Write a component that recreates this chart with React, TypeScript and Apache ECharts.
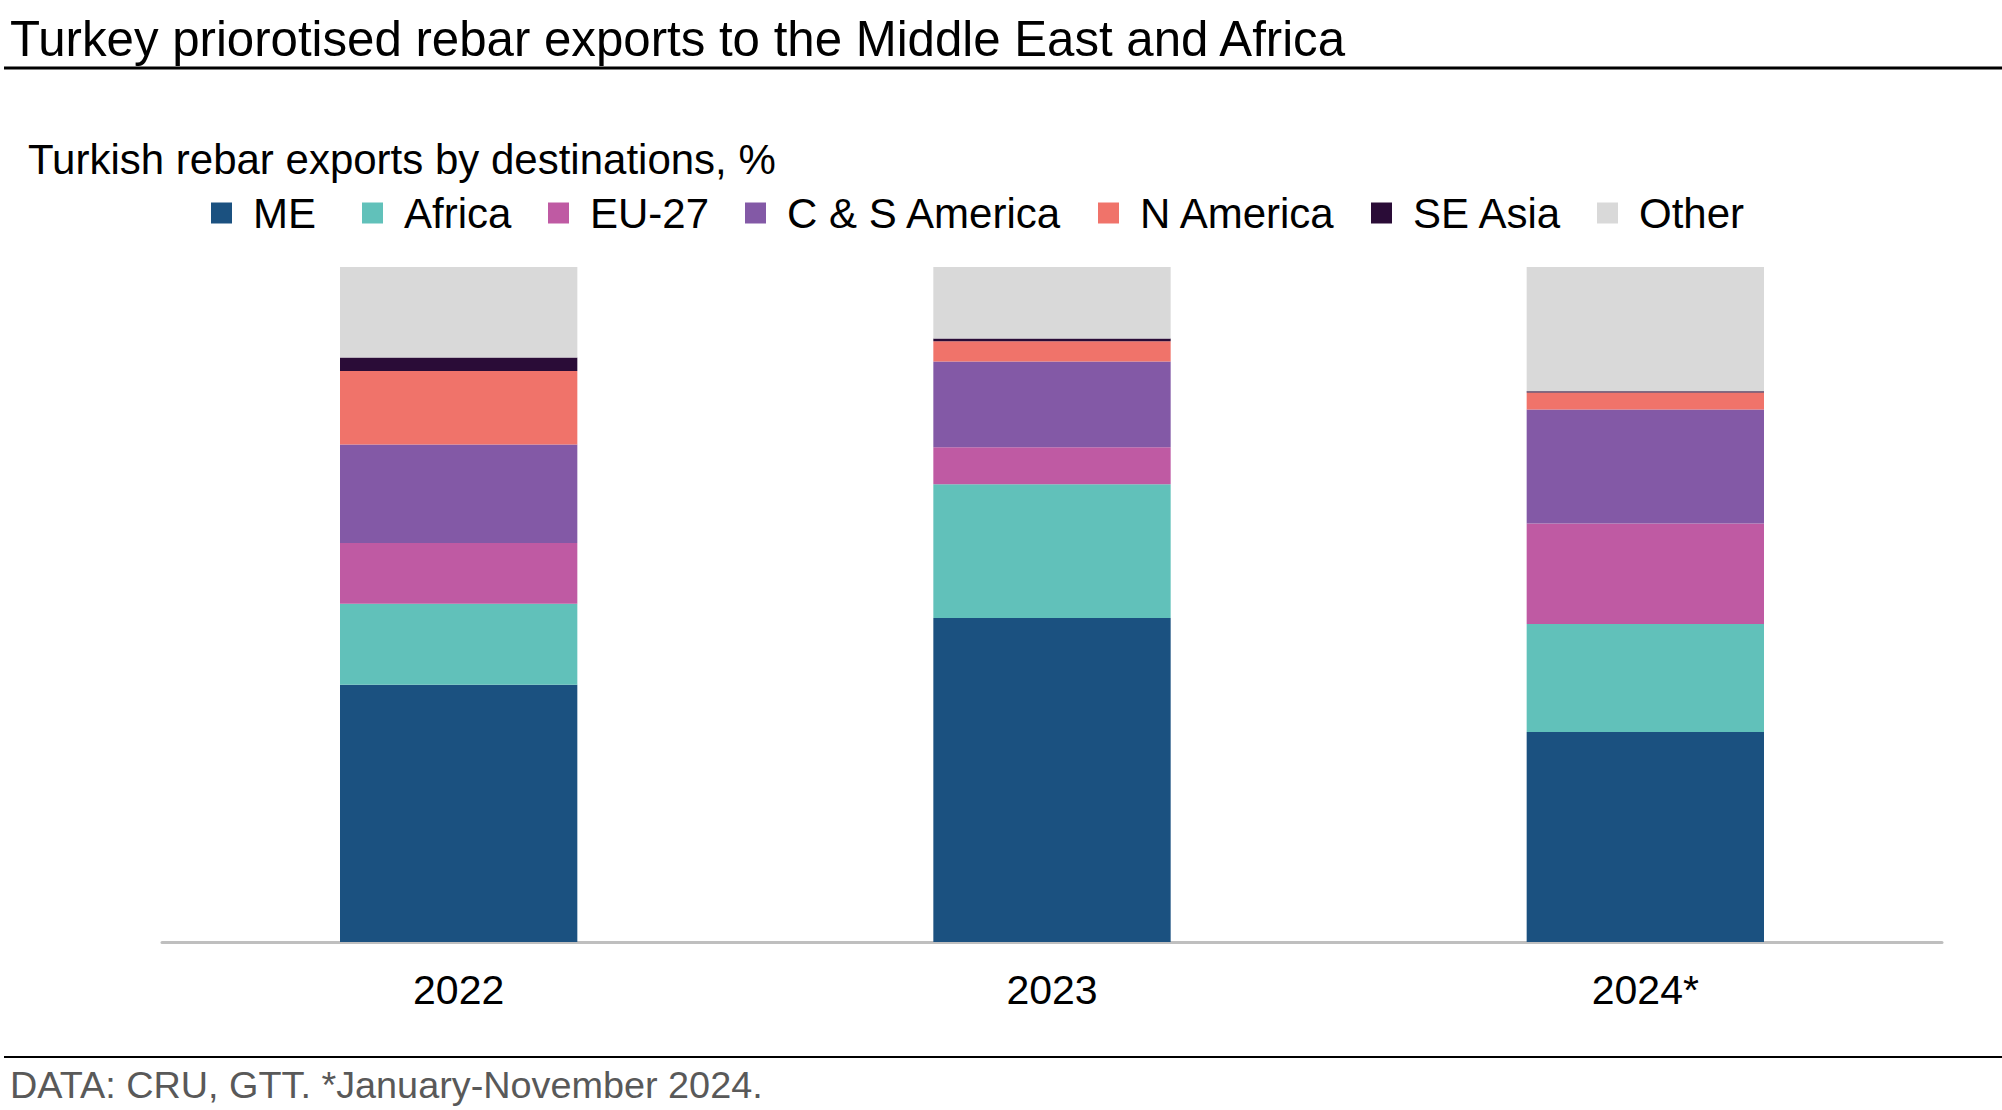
import React, { useEffect, useRef } from "react";
import * as echarts from "echarts";

const categories = ["2022", "2023", "2024*"];
const seriesNames = ["ME", "Africa", "EU-27", "C & S America", "N America", "SE Asia", "Other"];
const meValues = [38.1, 48.0, 31.1];
const africaValues = [12.0, 19.8, 16.0];
const euValues = [9.0, 5.5, 14.9];
const csAmericaValues = [14.6, 12.7, 16.9];
const nAmericaValues = [10.9, 3.0, 2.5];
const seAsiaValues = [2.0, 0.4, 0.2];
const otherValues = [13.4, 10.6, 18.4];
const colors = ["#1b5180", "#61c1ba", "#bf5aa3", "#8359a6", "#f0736a", "#2a0c37", "#d9d9d9"];

const FONT = "'Liberation Sans', Arial, sans-serif";
const LEGEND_LEFTS = [211, 362, 548, 745, 1098, 1371, 1597];

export default function App() {
  const ref = useRef<HTMLDivElement>(null);
  useEffect(() => {
    if (!ref.current) return;
    const chart = echarts.init(ref.current, undefined, { renderer: "svg" });
    const allValues = [meValues, africaValues, euValues, csAmericaValues, nAmericaValues, seAsiaValues, otherValues];
    chart.setOption({
      animation: false,
      backgroundColor: "#ffffff",
      textStyle: { fontFamily: FONT },
      title: {
        text: "Turkish rebar exports by destinations, %",
        left: 28,
        top: 138,
        padding: 0,
        textStyle: { fontSize: 42, fontWeight: "normal", color: "#000000", fontFamily: FONT },
      },
      legend: seriesNames.map((name, i) => ({
        left: LEGEND_LEFTS[i],
        top: 192,
        padding: 0,
        icon: "rect",
        itemWidth: 21,
        itemHeight: 21,
        selectedMode: false,
        data: [name],
        textStyle: { fontSize: 42, color: "#000000", fontFamily: FONT, padding: [0, 0, 0, 16] },
      })),
      grid: { left: 162, right: 60, top: 267, bottom: 168, containLabel: false },
      xAxis: {
        type: "category",
        data: categories,
        axisLine: { show: true, lineStyle: { color: "#bfbfbf", width: 3 } },
        axisTick: { show: false },
        axisLabel: { fontSize: 41, color: "#000000", margin: 27, fontFamily: FONT },
        splitLine: { show: false },
      },
      yAxis: {
        type: "value",
        min: 0,
        max: 100,
        show: false,
        splitLine: { show: false },
      },
      series: seriesNames.map((name, i) => ({
        name,
        type: "bar",
        stack: "total",
        barWidth: "40%",
        data: allValues[i],
        itemStyle: { color: colors[i] },
        emphasis: { disabled: true },
      })),
      graphic: [
        {
          type: "text",
          left: 10,
          top: 14,
          style: {
            text: "Turkey priorotised rebar exports to the Middle East and Africa",
            fontSize: 49.2,
            fontFamily: FONT,
            fill: "#000000",
          },
        },
        {
          type: "line",
          shape: { x1: 4, y1: 68, x2: 2002, y2: 68 },
          style: { stroke: "#000000", lineWidth: 3 },
        },
        {
          type: "line",
          shape: { x1: 4, y1: 1057, x2: 2002, y2: 1057 },
          style: { stroke: "#000000", lineWidth: 2 },
        },
        {
          type: "text",
          left: 10,
          top: 1066,
          style: {
            text: "DATA: CRU, GTT. *January-November 2024.",
            fontSize: 37.8,
            fontFamily: FONT,
            fill: "#595959",
          },
        },
      ],
    });
    return () => chart.dispose();
  }, []);
  return (
    <div
      ref={ref}
      style={{ position: "absolute", left: 0, top: 0, width: 2002, height: 1110 }}
    />
  );
}
